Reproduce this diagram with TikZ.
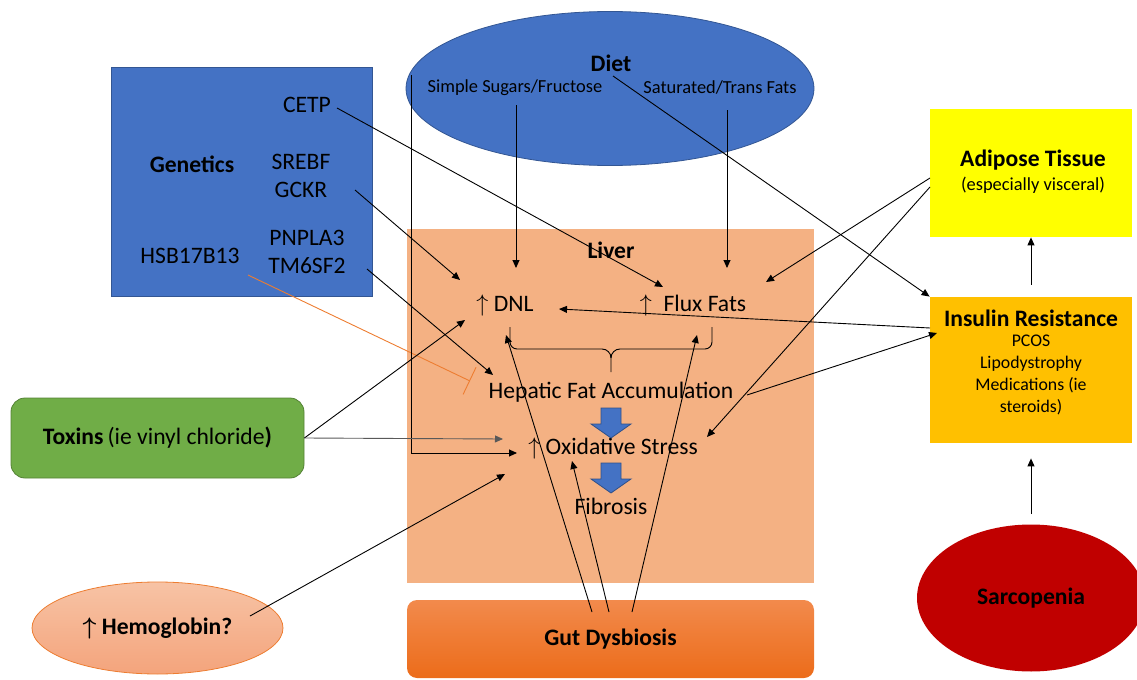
\documentclass[tikz,border=0pt]{standalone}
\usepackage{fontspec}
\setmainfont{Carlito}
\usetikzlibrary{arrows.meta,shapes.geometric,shadings}
\definecolor{genblue}{HTML}{4472C4}
\definecolor{liverfill}{HTML}{F4B183}
\definecolor{toxgreen}{HTML}{70AD47}
\definecolor{adiyellow}{HTML}{FFFF00}
\definecolor{insgold}{HTML}{FFC000}
\definecolor{sarcred}{HTML}{C00000}
\definecolor{gutlight}{HTML}{F28A4C}
\definecolor{gutdark}{HTML}{EC6C1A}
\definecolor{hemolight}{HTML}{F7C3A5}
\definecolor{hemodark}{HTML}{F4A47C}
\definecolor{hemoline}{HTML}{ED7D31}
\begin{document}
\begin{tikzpicture}[x=0.5pt,y=-0.5pt,
  txt/.style={inner sep=0pt,font=\fontsize{11.8}{14}\selectfont},
  txtb/.style={inner sep=0pt,font=\fontsize{11.8}{14}\selectfont\bfseries},
  txts/.style={inner sep=0pt,font=\fontsize{9.2}{11}\selectfont},
  txtm/.style={inner sep=0pt,font=\fontsize{8.9}{11}\selectfont},
  arr/.style={line width=0.45pt,-{Triangle[length=4pt,width=3.5pt]}},
  blk/.style={fill=genblue,draw=genblue!70!black,line width=0.4pt}]
	\useasboundingbox (0,0) rectangle (1137,680);
	\clip (0,0) rectangle (1137,680);
	% boxes and ellipses
	\node[draw=genblue!75!black,fill=genblue,minimum width=130.5pt,minimum height=114.5pt,inner sep=0pt] (genbox) at (241.5,181.5) {};
	\node[ellipse,draw=genblue!75!black,fill=genblue,minimum width=204pt,minimum height=77pt,inner sep=0pt] (dietell) at (610,88.5) {};
	\node[fill=liverfill,minimum width=203.5pt,minimum height=177pt,inner sep=0pt] (liverbox) at (610.5,406) {};
	\node[fill=adiyellow,minimum width=101pt,minimum height=64pt,inner sep=0pt] (adibox) at (1031,173) {};
	\node[fill=insgold,minimum width=101pt,minimum height=73pt,inner sep=0pt] (insbox) at (1031,370) {};
	\node[ellipse,fill=sarcred,minimum width=114pt,minimum height=73.5pt,inner sep=0pt,txtb] (sarc) at (1031,598) {Sarcopenia};
	\node[rounded corners=7pt,draw=toxgreen!75!black,fill=toxgreen,minimum width=146.5pt,minimum height=40pt,inner sep=0pt,txt] (tox) at (157.5,438) {\textbf{Toxins}\hspace{2pt}(ie vinyl chloride\textbf{)}};
	\node[ellipse,draw=hemoline,top color=hemolight,bottom color=hemodark,minimum width=125.5pt,minimum height=46pt,inner sep=0pt,txtb] (hemo) at (157.5,628) {{\boldmath$\uparrow$} Hemoglobin?};
	\node[rounded corners=5pt,top color=gutlight,bottom color=gutdark,minimum width=203.5pt,minimum height=39pt,inner sep=0pt,txtb] (gut) at (610.5,639) {Gut Dysbiosis};
	% texts
	\node[txtb] (gen) at (192,164) {Genetics};
	\node[txt] (cetp) at (307,105) {CETP};
	\node[txt] (srebf) at (301,162) {SREBF};
	\node[txt] (gckr) at (301,190) {GCKR};
	\node[txt] (pnpla) at (307,238) {PNPLA3};
	\node[txt] (tmsf) at (307,266) {TM6SF2};
	\node[txt] (hsb) at (190,256) {HSB17B13};
	\node[txtb] (diet) at (611,63) {Diet};
	\node[txts] (sugars) at (515,88) {Simple Sugars/Fructose};
	\node[txts] (satfat) at (720,88) {Saturated/Trans Fats};
	\node[txtb] (liver) at (611,250) {Liver};
	\node[txt] (dnl) at (505,305) {$\uparrow$ DNL};
	\node[txt] (flux) at (693,305) {$\uparrow$\enspace Flux Fats};
	\node[txt] (hfa) at (611,392) {Hepatic Fat Accumulation};
	\node[txt] (ox) at (613,448) {$\uparrow$ Oxidative Stress};
	\node[txt] (fib) at (611,506) {Fibrosis};
	\node[txtb] (adi) at (1033,160) {Adipose Tissue};
	\node[txts] (adisub) at (1033,185) {(especially visceral)};
	\node[txtb] (ins) at (1031,318) {Insulin Resistance};
	\node[txtm,align=center,font=\fontsize{8.9}{11}\selectfont] (inssub) at (1031,375) {PCOS\\Lipodystrophy\\Medications (ie\\steroids)};
	% brace under DNL and Flux Fats
	\draw[line width=0.45pt] (510,327) -- (510,342) to[out=-90,in=180] (517,349) -- (602,349) to[out=0,in=90] (611,358) -- (611,372);
	\draw[line width=0.45pt] (712,327) -- (712,342) to[out=-90,in=0] (705,349) -- (620,349) to[out=180,in=90] (611,358);
	% block arrows
	\foreach \y in {408,463}
		\draw[blk] (601,\y) -- ++(20,0) -- ++(0,16) -- ++(10,0) -- ++(-20,14) -- ++(-20,-14) -- ++(10,0) -- cycle;
	% connector ends
	\coordinate (cetpOut) at (337,108);
	\coordinate (gckrOut) at (355,190);
	\coordinate (tmsfOut) at (367,269);
	\coordinate (hsbOut) at (248,275);
	\coordinate (sugOut) at (516,105);
	\coordinate (satOut) at (727,110);
	\coordinate (dietOut) at (613,76);
	\coordinate (dietL) at (411,75);
	\coordinate (hemoOut) at (250,616);
	\coordinate (adiA) at (930,178);
	\coordinate (adiB) at (930,187);
	\coordinate (insA) at (930,328);
	\coordinate (insB) at (937,333);
	\coordinate (hfaOut) at (747,395);
	\coordinate (gutA) at (592,612);
	\coordinate (gutB) at (609,612);
	\coordinate (gutC) at (632,612);
	\coordinate (dnlA) at (460,280);
	\coordinate (dnlB) at (516,268);
	\coordinate (dnlC) at (465,320);
	\coordinate (dnlD) at (559,309);
	\coordinate (dnlE) at (506,335);
	\coordinate (fluxA) at (663,287);
	\coordinate (fluxB) at (727,268);
	\coordinate (fluxC) at (766,282);
	\coordinate (fluxD) at (697,335);
	\coordinate (hfaA) at (493,375);
	\coordinate (hfaB) at (470,381);
	\coordinate (oxA) at (517,453);
	\coordinate (oxB) at (503,439);
	\coordinate (oxC) at (505,474);
	\coordinate (oxD) at (707,437);
	\coordinate (oxE) at (572,461);
	% connectors
	\draw[arr] (cetpOut) -- (fluxA);
	\draw[arr] (gckrOut) -- (dnlA);
	\draw[arr] (tmsfOut) -- (hfaA);
	\draw[hemoline,line width=0.45pt,-{Bar[width=15pt]}] (hsbOut) -- (hfaB);
	\draw[arr] (sugOut) -- (dnlB);
	\draw[arr] (satOut) -- (fluxB);
	\draw[arr] (dietOut) -- (insbox.north west);
	\draw[arr] (dietL) |- (oxA);
	\draw[arr] (tox.east) -- (dnlC);
	\draw[arr,black!65] (tox.east) -- (oxB);
	\draw[arr] (hemoOut) -- (oxC);
	\draw[arr] (adiA) -- (fluxC);
	\draw[arr] (adiB) -- (oxD);
	\draw[arr] (insA) -- (dnlD);
	\draw[arr] (hfaOut) -- (insB);
	\draw[arr] ([yshift=6pt]insbox.north) -- (adibox.south);
	\draw[arr] ([yshift=5pt]sarc.north) -- ([yshift=-7.5pt]insbox.south);
	\draw[arr] (gutA) -- (dnlE);
	\draw[arr] (gutB) -- (oxE);
	\draw[arr] (gutC) -- (fluxD);
\end{tikzpicture}
\end{document}
